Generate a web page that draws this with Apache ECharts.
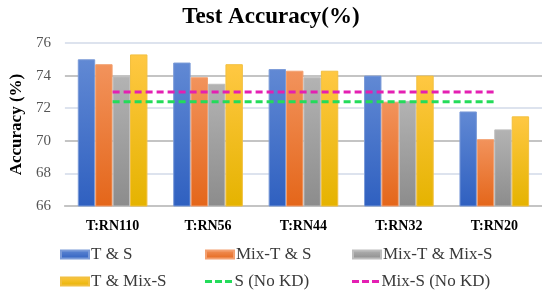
<!DOCTYPE html>
<html>
<head>
<meta charset="utf-8">
<script src="https://cdn.jsdelivr.net/npm/echarts@6/dist/echarts.min.js"></script>
<style>
  html, body { margin: 0; padding: 0; background: #fff; }
  #chart { width: 542px; height: 292px; }
</style>
</head>
<body>
<div id="chart"></div>
<script>
// data
var categories = ['T:RN110', 'T:RN56', 'T:RN44', 'T:RN32', 'T:RN20'];
var tAndS = [75.0, 74.8, 74.4, 74.0, 71.8];
var mixTAndS = [74.7, 73.9, 74.3, 72.4, 70.1];
var mixTAndMixS = [73.95, 73.5, 73.9, 72.45, 70.7];
var tAndMixS = [75.3, 74.7, 74.3, 74.0, 71.5];
var sNoKD = [72.4, 72.4, 72.4, 72.4, 72.4];
var mixSNoKD = [73.0, 73.0, 73.0, 73.0, 73.0];

var font = 'Liberation Serif';
var dashIcon = 'path://M0,0h7v3h-7z M10,0h7v3h-7z M20,0h7v3h-7z';

function grad(top, bottom) {
  return new echarts.graphic.LinearGradient(0, 0, 0, 1, [
    { offset: 0, color: top },
    { offset: 1, color: bottom }
  ]);
}

function barSeries(name, data, top, bottom, border) {
  return {
    name: name,
    type: 'bar',
    data: data,
    barGap: '0%',
    barCategoryGap: '27%',
    itemStyle: {
      color: grad(top, bottom),
      borderColor: border,
      borderWidth: 1
    }
  };
}

function lineSeries(name, data, color) {
  return {
    name: name,
    type: 'line',
    data: data,
    symbol: 'none',
    z: 5,
    lineStyle: { color: color, width: 3, type: [7, 4] },
    itemStyle: { color: color }
  };
}

// one legend per entry so the 3x2 layout is fixed
function legendItem(left, top, name, isLine) {
  return {
    left: left,
    top: top,
    padding: 0,
    itemWidth: 28,
    itemHeight: isLine ? 3 : 8,
    icon: isLine ? dashIcon : 'rect',
    textStyle: { fontFamily: font, fontSize: 17, color: '#3a3a3a', padding: [0, 0, 0, -3] },
    data: [name]
  };
}

var chart = echarts.init(document.getElementById('chart'));

chart.setOption({
  animation: false,
  title: {
    text: 'Test Accuracy(%)',
    left: 'center',
    top: 1,
    textStyle: { fontFamily: font, fontSize: 23, fontWeight: 'bold', color: '#000' }
  },
  legend: [
    legendItem(60, 246, 'T & S', false),
    legendItem(205, 246, 'Mix-T & S', false),
    legendItem(352, 246, 'Mix-T & Mix-S', false),
    legendItem(60, 273, 'T & Mix-S', false),
    legendItem(205, 273, 'S (No KD)', true),
    legendItem(352, 273, 'Mix-S (No KD)', true)
  ],
  grid: { left: 61, right: 0, top: 43, bottom: 86 },
  xAxis: {
    type: 'category',
    data: categories,
    axisLine: { lineStyle: { color: '#c4c4c4', width: 2 } },
    axisTick: { show: false },
    axisLabel: { fontFamily: font, fontSize: 14, fontWeight: 'bold', color: '#000', margin: 13 }
  },
  yAxis: {
    type: 'value',
    min: 66,
    max: 76,
    interval: 2,
    name: 'Accuracy (%)',
    nameLocation: 'middle',
    nameGap: 34,
    nameTextStyle: { fontFamily: font, fontSize: 17, fontWeight: 'bold', color: '#000' },
    axisLine: { show: false },
    axisTick: { show: false },
    axisLabel: { fontFamily: font, fontSize: 15, color: '#555', margin: 14 },
    splitLine: { lineStyle: { color: ['#c4c4c4', '#dde3ee'], width: 2 } }
  },
  series: [
    barSeries('T & S', tAndS, '#6189d4', '#2f60c0', '#7b9bd8'),
    barSeries('Mix-T & S', mixTAndS, '#f2935c', '#e4661a', '#f3a070'),
    barSeries('Mix-T & Mix-S', mixTAndMixS, '#b3b3b3', '#8c8c8c', '#bdbdbd'),
    barSeries('T & Mix-S', tAndMixS, '#ffc843', '#e5b300', '#f2c040'),
    lineSeries('S (No KD)', sNoKD, '#23dc5a'),
    lineSeries('Mix-S (No KD)', mixSNoKD, '#e41fb2')
  ]
});
</script>
</body>
</html>
